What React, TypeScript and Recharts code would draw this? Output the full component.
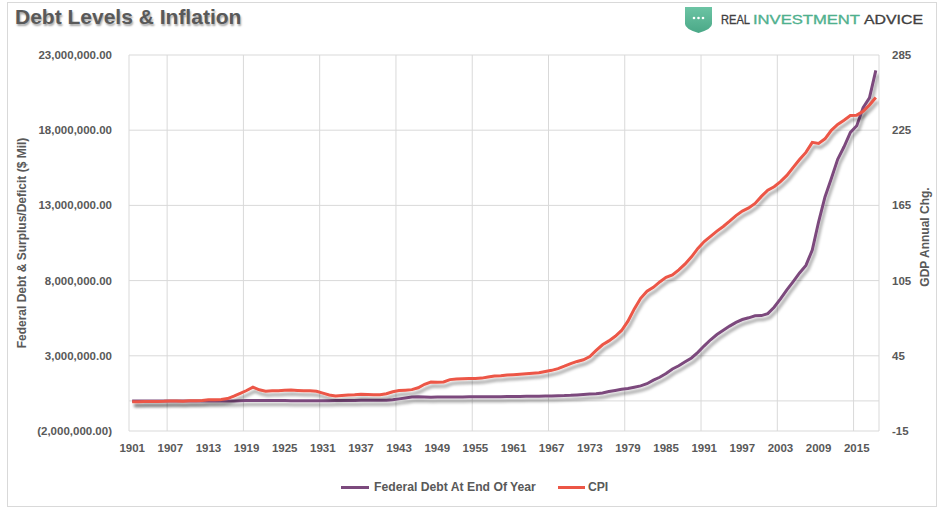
import React from 'react';
import { LineChart, Line, XAxis, YAxis, CartesianGrid, ReferenceLine } from 'recharts';

const YEARS = [
  1901, 1902, 1903, 1904, 1905, 1906, 1907, 1908, 1909, 1910,
  1911, 1912, 1913, 1914, 1915, 1916, 1917, 1918, 1919, 1920,
  1921, 1922, 1923, 1924, 1925, 1926, 1927, 1928, 1929, 1930,
  1931, 1932, 1933, 1934, 1935, 1936, 1937, 1938, 1939, 1940,
  1941, 1942, 1943, 1944, 1945, 1946, 1947, 1948, 1949, 1950,
  1951, 1952, 1953, 1954, 1955, 1956, 1957, 1958, 1959, 1960,
  1961, 1962, 1963, 1964, 1965, 1966, 1967, 1968, 1969, 1970,
  1971, 1972, 1973, 1974, 1975, 1976, 1977, 1978, 1979, 1980,
  1981, 1982, 1983, 1984, 1985, 1986, 1987, 1988, 1989, 1990,
  1991, 1992, 1993, 1994, 1995, 1996, 1997, 1998, 1999, 2000,
  2001, 2002, 2003, 2004, 2005, 2006, 2007, 2008, 2009, 2010,
  2011, 2012, 2013, 2014, 2015, 2016, 2017, 2018,
];

// Federal Debt At End Of Year ($ Mil)
const DEBT = [
  1222, 1178, 1159, 1136, 1132, 1143, 1147, 1178, 1148, 1147,
  1154, 1194, 1193, 1188, 1191, 1225, 2976, 12244, 25482, 24299,
  23977, 22963, 22350, 21251, 20516, 19643, 18512, 17604, 16931, 16185,
  16801, 19487, 22539, 27053, 28701, 33779, 36425, 37165, 40440, 42968,
  48961, 72422, 136696, 201003, 258682, 269422, 258286, 252292, 252770, 257357,
  255222, 259105, 266071, 271260, 274374, 272751, 270527, 276343, 284706, 286331,
  288971, 298201, 305860, 311713, 317274, 319907, 326221, 347578, 353720, 370919,
  398130, 427260, 458141, 475060, 533189, 620433, 698840, 771544, 826519, 907701,
  997855, 1142034, 1377210, 1572266, 1823103, 2125303, 2340000, 2602000, 2857000, 3233000,
  3665000, 4065000, 4411000, 4693000, 4974000, 5225000, 5413000, 5526000, 5656000, 5674000,
  5807000, 6228000, 6783000, 7379000, 7933000, 8507000, 9008000, 10025000, 11910000, 13562000,
  14790000, 16066000, 16900000, 17850000, 18300000, 19500000, 20150000, 21974000,
];

// CPI
const CPI = [
  8.3, 8.4, 8.6, 8.6, 8.6, 8.7, 9.0, 8.9, 8.8, 9.2,
  9.2, 9.4, 9.9, 10.0, 10.1, 10.9, 12.8, 15.1, 17.3, 20.0,
  17.9, 16.8, 17.1, 17.1, 17.5, 17.7, 17.4, 17.1, 17.1, 16.7,
  15.2, 13.7, 13.0, 13.4, 13.7, 13.9, 14.4, 14.1, 13.9, 14.0,
  14.7, 16.3, 17.3, 17.6, 18.0, 19.5, 22.3, 24.1, 23.8, 24.1,
  26.0, 26.5, 26.7, 26.9, 26.8, 27.2, 28.1, 28.9, 29.1, 29.6,
  29.9, 30.2, 30.6, 31.0, 31.5, 32.4, 33.4, 34.8, 36.7, 38.8,
  40.5, 41.8, 44.4, 49.3, 53.8, 56.9, 60.6, 65.2, 72.6, 82.4,
  90.9, 96.5, 99.6, 103.9, 107.6, 109.6, 113.6, 118.3, 124.0, 130.7,
  136.2, 140.3, 144.5, 148.2, 152.4, 156.9, 160.5, 163.0, 166.6, 172.2,
  177.1, 179.9, 184.0, 188.9, 195.3, 201.6, 207.3, 215.3, 214.5, 218.1,
  224.9, 229.6, 233.0, 236.7, 237.0, 240.0, 245.1, 251.1,
];

const X_TICKS = [1901, 1907, 1913, 1919, 1925, 1931, 1937, 1943, 1949, 1955, 1961, 1967, 1973, 1979, 1985, 1991, 1997, 2003, 2009, 2015];
const GRID_YEARS = [1900.5, 1906.5, 1912.5, 1918.5, 1924.5, 1930.5, 1936.5, 1942.5, 1948.5, 1954.5, 1960.5, 1966.5, 1972.5, 1978.5, 1984.5, 1990.5, 1996.5, 2002.5, 2008.5, 2014.5];
const LEFT_TICKS = [-2000000, 3000000, 8000000, 13000000, 18000000, 23000000];
const RIGHT_TICKS = [-15, 45, 105, 165, 225, 285];

const data = YEARS.map((year, i) => ({ year, debt: DEBT[i], cpi: CPI[i] }));

const PURPLE = '#7c4a7d';
const RED = '#ec5646';
const TEXT = '#595959';
const GRID = '#d9d9d9';
const FONT = '"Liberation Sans", Arial, sans-serif';

const fmtLeft = (v: number) => {
  const s = Math.abs(v).toLocaleString('en-US', { minimumFractionDigits: 2, maximumFractionDigits: 2 });
  return v < 0 ? `(${s})` : s;
};

const tickStyle = { fill: TEXT, fontSize: 11.5, fontWeight: 700, fontFamily: FONT };

export default function App() {
  return (
    <div style={{ position: 'absolute', left: 0, top: 0, width: 946, height: 515, background: '#fff', fontFamily: FONT, overflow: 'hidden' }}>
      <svg width={0} height={0} style={{ position: 'absolute' }}>
        <defs>
          <filter id="lineShadow" filterUnits="userSpaceOnUse" x={0} y={0} width={946} height={515}>
            <feGaussianBlur in="SourceAlpha" stdDeviation={1.8} />
            <feOffset dx={1.5} dy={3.5} result="ob" />
            <feComponentTransfer>
              <feFuncA type="linear" slope={0.35} />
            </feComponentTransfer>
            <feMerge>
              <feMergeNode />
              <feMergeNode in="SourceGraphic" />
            </feMerge>
          </filter>
          <linearGradient id="shieldGrad" x1="0" y1="0" x2="0" y2="1">
            <stop offset="0%" stopColor="#6cc4a4" />
            <stop offset="100%" stopColor="#4aa887" />
          </linearGradient>
        </defs>
      </svg>
      <div style={{ position: 'absolute', left: 7, top: 2, width: 930, height: 505, border: `1px solid ${GRID}`, boxSizing: 'border-box' }} />
      <div style={{ position: 'absolute', left: 15, top: 5, fontSize: 21, fontWeight: 700, color: TEXT, textShadow: '1px 2px 2px rgba(0,0,0,0.35)', whiteSpace: 'nowrap' }}>
        Debt Levels &amp; Inflation
      </div>
      <svg style={{ position: 'absolute', left: 0, top: 0 }} width={946} height={40}>
        <path d="M685,7 L712,7 L712,24 Q712,29 698.5,33 Q685,29 685,24 Z" fill="url(#shieldGrad)" />
        <circle cx={694} cy={18} r={1.3} fill="#fff" />
        <circle cx={698.5} cy={18} r={1.3} fill="#fff" />
        <circle cx={703} cy={18} r={1.3} fill="#fff" />
        <text x={721} y={23.5} fontSize={12} fontFamily={FONT} fill="#404040" stroke="#404040" strokeWidth={0.3} textLength={29} lengthAdjust="spacingAndGlyphs">REAL</text>
        <text x={753} y={23.5} fontSize={12} fontFamily={FONT} fill="#4fb08e" stroke="#4fb08e" strokeWidth={0.3} textLength={107} lengthAdjust="spacingAndGlyphs">INVESTMENT</text>
        <text x={864} y={23.5} fontSize={12} fontFamily={FONT} fill="#404040" stroke="#404040" strokeWidth={0.3} textLength={59} lengthAdjust="spacingAndGlyphs">ADVICE</text>
      </svg>
      <div style={{ position: 'absolute', left: 0, top: 0 }}>
        <LineChart width={946} height={515} data={data} margin={{ top: 55, right: 10, bottom: 54, left: 29 }}>
          <XAxis xAxisId="grid" orientation="top" type="number" dataKey="year" domain={[1900.5, 2018.5]} ticks={GRID_YEARS} hide allowDataOverflow />
          <XAxis
            xAxisId="yr"
            type="number"
            dataKey="year"
            domain={[1900.5, 2018.5]}
            ticks={X_TICKS}
            interval={0}
            axisLine={false}
            tickLine={false}
            tickSize={0}
            tickMargin={13}
            height={30}
            tick={tickStyle}
            allowDataOverflow
          />
          <YAxis
            yAxisId="left"
            orientation="left"
            width={100}
            domain={[-2000000, 23000000]}
            ticks={LEFT_TICKS}
            interval={0}
            tickFormatter={fmtLeft}
            axisLine={false}
            tickLine={false}
            tickSize={0}
            tickMargin={17}
            tick={tickStyle}
          />
          <YAxis
            yAxisId="right"
            orientation="right"
            width={57}
            domain={[-15, 285]}
            ticks={RIGHT_TICKS}
            interval={0}
            axisLine={false}
            tickLine={false}
            tickSize={0}
            tickMargin={13}
            tick={{ ...tickStyle, textAnchor: 'start' }}
          />
          <CartesianGrid xAxisId="grid" yAxisId="left" stroke={GRID} strokeWidth={1} />
          <ReferenceLine xAxisId="yr" yAxisId="left" y={0} stroke={GRID} strokeWidth={1} />
          <Line
            xAxisId="yr"
            yAxisId="left"
            type="linear"
            dataKey="debt"
            name="Federal Debt At End Of Year"
            stroke={PURPLE}
            strokeWidth={3}
            dot={false}
            isAnimationActive={false}
            filter="url(#lineShadow)"
          />
          <Line
            xAxisId="yr"
            yAxisId="right"
            type="linear"
            dataKey="cpi"
            name="CPI"
            stroke={RED}
            strokeWidth={3}
            dot={false}
            isAnimationActive={false}
            filter="url(#lineShadow)"
          />
        </LineChart>
      </div>
      <div style={{ position: 'absolute', left: 22, top: 243, transform: 'translate(-50%, -50%) rotate(-90deg)', fontSize: 12, fontWeight: 700, color: TEXT, whiteSpace: 'nowrap' }}>
        Federal Debt &amp; Surplus/Deficit ($ Mil)
      </div>
      <div style={{ position: 'absolute', left: 925, top: 237, transform: 'translate(-50%, -50%) rotate(-90deg)', fontSize: 12, fontWeight: 700, color: TEXT, whiteSpace: 'nowrap' }}>
        GDP Annual Chg.
      </div>
      <div style={{ position: 'absolute', left: 341, top: 479, height: 16, display: 'flex', alignItems: 'center', fontSize: 12.2, fontWeight: 700, color: TEXT, whiteSpace: 'nowrap' }}>
        <span style={{ display: 'inline-block', width: 28, height: 3, background: PURPLE, marginRight: 5 }} />
        <span>Federal Debt At End Of Year</span>
        <span style={{ display: 'inline-block', width: 27, height: 3, background: RED, marginLeft: 22, marginRight: 3 }} />
        <span>CPI</span>
      </div>
    </div>
  );
}
